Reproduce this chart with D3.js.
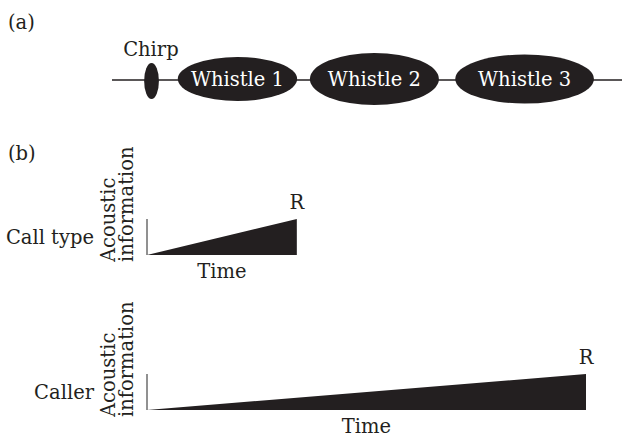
<!DOCTYPE html>
<html><head><meta charset="utf-8">
<script src="https://cdn.jsdelivr.net/npm/d3@7"></script>
<style>body{margin:0;background:#fff}svg{display:block}text{font-family:"DejaVu Serif",serif;font-size:19.5px;fill:#231f20}</style>
</head><body><svg id="c" width="622" height="437"></svg>
<script>
// Panel (a): call components along a time line (arbitrary time units 0-100)
const components = ["Chirp", "Whistle 1", "Whistle 2", "Whistle 3"];
const compStart = [6.3, 12.9, 38.8, 67.3];
const compEnd = [9.2, 36.3, 64.1, 94.5];
const compHeight = [36, 44, 52, 49];
const compLabelInside = [false, true, true, true];

// Panel (b): accumulation of acoustic information to the recognition point R
const panels = ["Call type", "Caller"];
const panelTimeToR = [1.0, 2.93];
const panelInfoAtR = [1.0, 1.0];
const axisTitleLines = ["Acoustic", "information"];
const timeLabel = "Time";
const recogLabel = "R";

const svg = d3.select("#c");
const ink = "#231f20";

// ----- Panel (a)
svg.append("text").attr("x", 8).attr("y", 29).text("(a)");
const xa = d3.scaleLinear().domain([0, 100]).range([112, 622]);
const ha = d3.scaleLinear().domain([0, 100]).range([0, 100]);
const lineY = 80;
svg.append("line").attr("x1", xa(0)).attr("x2", xa(100)).attr("y1", lineY).attr("y2", lineY)
  .attr("stroke", ink).attr("stroke-width", 1.5);
const comp = svg.append("g").selectAll("g").data(components).join("g");
comp.append("ellipse")
  .attr("cx", (d, i) => (xa(compStart[i]) + xa(compEnd[i])) / 2)
  .attr("cy", (d, i) => compLabelInside[i] ? lineY - 1 : lineY + 1)
  .attr("rx", (d, i) => (xa(compEnd[i]) - xa(compStart[i])) / 2)
  .attr("ry", (d, i) => ha(compHeight[i]) / 2)
  .attr("fill", ink);
comp.append("text")
  .attr("x", (d, i) => compLabelInside[i] ? (xa(compStart[i]) + xa(compEnd[i])) / 2 : xa(compStart[i]) - 21)
  .attr("y", (d, i) => compLabelInside[i] ? lineY + 6 : 56)
  .attr("text-anchor", (d, i) => compLabelInside[i] ? "middle" : "start")
  .style("fill", (d, i) => compLabelInside[i] ? "#fff" : ink)
  .text(d => d);

// ----- Panel (b)
svg.append("text").attr("x", 8).attr("y", 160).text("(b)");
const xb = d3.scaleLinear().domain([0, 2.93]).range([147, 586]);
const baseY = [255, 410];
panels.forEach((name, i) => {
  const y = d3.scaleLinear().domain([0, 1]).range([baseY[i], baseY[i] - 36]);
  const g = svg.append("g");
  const tR = panelTimeToR[i];
  const area = d3.area().x(d => xb(d[0])).y0(y(0)).y1(d => y(d[1]));
  g.append("path").datum([[0, 0], [tR, panelInfoAtR[i]]]).attr("d", area).attr("fill", ink);
  g.append("line").attr("x1", xb(0)).attr("x2", xb(0)).attr("y1", y(0)).attr("y2", y(1))
    .attr("stroke", "#6d6d6d").attr("stroke-width", 1.5);
  g.append("text").attr("x", xb(tR)).attr("y", y(panelInfoAtR[i]) - 10)
    .attr("text-anchor", "middle").text(recogLabel);
  g.append("text").attr("x", (xb(0) + xb(tR)) / 2).attr("y", y(0) + 23)
    .attr("text-anchor", "middle").text(timeLabel);
  g.append("text").attr("x", 94).attr("y", y(0) - 11)
    .attr("text-anchor", "end").text(name);
  axisTitleLines.forEach((t, k) => {
    g.append("text").attr("transform", `translate(${115 + k * 18},${y(0) + 7}) rotate(-90)`)
      .attr("text-anchor", "start").text(t);
  });
});
</script></body></html>
